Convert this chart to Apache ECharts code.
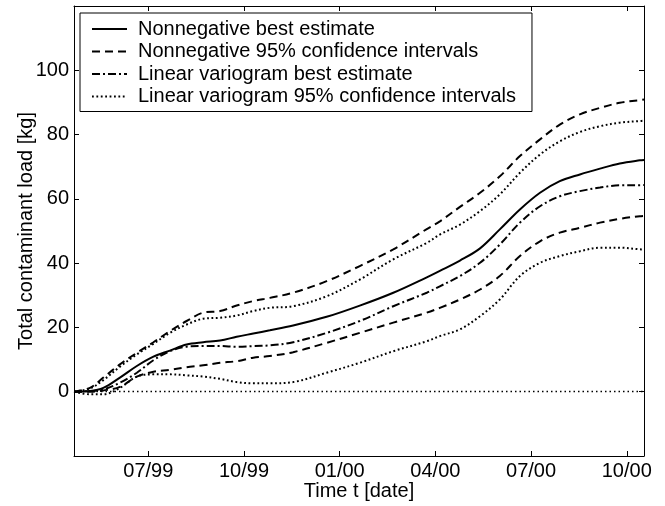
<!DOCTYPE html>
<html>
<head>
<meta charset="utf-8">
<script src="https://cdn.jsdelivr.net/npm/echarts@6/dist/echarts.min.js"></script>
<style>
html,body{margin:0;padding:0;background:#fff;}
#chart{width:665px;height:506px;}
</style>
</head>
<body>
<div id="chart"></div>
<script>
// x values: months since Jan 1999 (6 = 07/99)
const months = [3.67, 4.17, 4.59, 5.11, 5.64, 6.16, 6.68, 7.2, 7.72, 8.25, 8.77, 9.29, 9.81, 10.54, 11.59, 12.63, 13.68, 14.73, 15.14, 15.77, 16.4, 17.02, 17.65, 18.28, 18.9, 19.53, 20.16, 20.78, 21.41, 21.54];
const nnBest  = [0, 0.2, 1.2, 4.4, 8, 10.9, 12.8, 14.7, 15.4, 15.9, 17.1, 18.1, 19.1, 20.6, 23.3, 26.8, 30.8, 35.6, 37.6, 40.8, 44.6, 50.5, 56.7, 61.9, 65.5, 67.6, 69.4, 71, 72, 72.1];
const nnUpper = [0, 1.2, 4.4, 8.5, 12.1, 15.4, 18.9, 22, 24.6, 25.1, 26.8, 28.2, 29.2, 30.8, 34.4, 39.1, 44.3, 50.6, 53, 57.5, 61.9, 67, 73.3, 78.5, 83.1, 86.3, 88.3, 89.9, 90.7, 90.9];
const nnLower = [0, 0, 0.4, 1.5, 4.7, 6.2, 6.8, 7.6, 8.2, 9, 9.5, 10.6, 11.1, 12.3, 15.2, 18.3, 21.5, 24.6, 26.1, 28.7, 31.8, 36, 42.2, 46.8, 49.5, 51, 52.6, 53.8, 54.6, 54.7];
const lvBest  = [0, 0.2, 0.7, 2.8, 5.9, 9.8, 12.6, 14, 14.2, 14.2, 14, 14.2, 14.4, 15.4, 18.3, 22, 26.6, 30.8, 32.8, 36, 40.1, 45.8, 52.6, 57.7, 60.8, 62.4, 63.5, 64.2, 64.2, 64.3];
const lvUpper = [0, 1.0, 3.6, 7.8, 11.6, 14.9, 18.3, 20.9, 22.7, 23, 23.7, 25.1, 26.1, 26.6, 29.7, 34.9, 41.2, 46.3, 48.9, 52, 56.2, 61.4, 68.1, 73.8, 77.9, 80.8, 82.6, 83.7, 84.2, 84.3];
const lvLower = [0, -0.8, -0.8, 1.2, 4.7, 5.4, 5.4, 5.1, 4.7, 4, 3, 2.6, 2.6, 3, 5.9, 9, 12.6, 15.7, 17.3, 19.4, 23.5, 28.7, 36, 40.1, 42.2, 43.7, 44.8, 44.8, 44.3, 44.2];

const tickMonths = [6, 9, 12, 15, 18, 21];
const tickLabels = ['07/99', '10/99', '01/00', '04/00', '07/00', '10/00'];
const yTickLabels = [0, 20, 40, 60, 80, 100];

const names = {
  nnBest: 'Nonnegative best estimate',
  nnCI: 'Nonnegative 95% confidence intervals',
  lvBest: 'Linear variogram best estimate',
  lvCI: 'Linear variogram 95% confidence intervals'
};

const FONT = 'Liberation Sans, Arial, Helvetica, sans-serif';
const pts = arr => months.map((m, i) => [m, arr[i]]);

function line(name, arr, dash, extra) {
  return Object.assign({
    name: name, type: 'line', data: pts(arr), symbol: 'none', smooth: 0.35,
    xAxisIndex: 0, yAxisIndex: 0,
    lineStyle: { color: '#000', width: 2, type: dash, cap: 'butt' },
    itemStyle: { color: '#000' },
    emphasis: { disabled: true }, silent: true
  }, extra || {});
}

const chart = echarts.init(document.getElementById('chart'), null, { renderer: 'canvas' });
const xCommon = {
  type: 'value', min: 3.67, max: 21.54, splitLine: { show: false },
  axisLine: { show: true, onZero: false, lineStyle: { color: '#000', width: 1 } },
  axisTick: { show: true, inside: true, length: 5, customValues: tickMonths, lineStyle: { color: '#000' } }
};
const yCommon = {
  type: 'value', min: -20, max: 120, interval: 20, splitLine: { show: false },
  axisLine: { show: true, onZero: false, lineStyle: { color: '#000', width: 1 } },
  axisTick: { show: true, inside: true, length: 5, customValues: yTickLabels, lineStyle: { color: '#000' } }
};

chart.setOption({
  animation: false,
  backgroundColor: '#fff',
  textStyle: { fontFamily: FONT },
  grid: { left: 74, top: 6, right: 21, bottom: 50, containLabel: false, outerBoundsMode: 'none' },
  xAxis: [
    Object.assign({}, xCommon, {
      position: 'bottom',
      name: 'Time t [date]', nameLocation: 'middle', nameGap: 25, nameMoveOverlap: false,
      nameTextStyle: { fontSize: 20, color: '#000', fontFamily: FONT },
      axisLabel: {
        show: true, customValues: tickMonths, margin: 5, fontSize: 20, color: '#000', fontFamily: FONT,
        formatter: v => { const i = tickMonths.indexOf(v); return i >= 0 ? tickLabels[i] : ''; }
      }
    }),
    Object.assign({}, xCommon, { position: 'top', axisLabel: { show: false } })
  ],
  yAxis: [
    Object.assign({}, yCommon, {
      position: 'left',
      name: 'Total contaminant load [kg]', nameLocation: 'middle', nameGap: 38, nameMoveOverlap: false,
      nameTextStyle: { fontSize: 20, color: '#000', fontFamily: FONT },
      axisLabel: {
        show: true, customValues: yTickLabels, margin: 5, fontSize: 20, color: '#000', fontFamily: FONT,
        formatter: v => (yTickLabels.indexOf(v) >= 0 ? String(v) : '')
      }
    }),
    Object.assign({}, yCommon, { position: 'right', axisLabel: { show: false } })
  ],
  legend: {
    show: true, orient: 'vertical', left: 80, top: 13,
    data: [names.nnBest, names.nnCI, names.lvBest, names.lvCI],
    backgroundColor: '#fff', borderColor: '#000', borderWidth: 1, borderRadius: 0,
    padding: [5, 16, 4, 11], itemGap: 0.5, itemWidth: 35, itemHeight: 14,
    selectedMode: false,
    itemStyle: { opacity: 0, borderWidth: 0 },
    textStyle: { fontSize: 20, color: '#000', fontFamily: FONT, lineHeight: 22, padding: [0, 0, 0, 6] }
  },
  series: [
    line(names.nnBest, nnBest, 'solid', {
      markLine: {
        silent: true, symbol: ['none', 'none'], label: { show: false },
        lineStyle: { color: '#000', width: 1.3, type: [1.5, 3] },
        emphasis: { disabled: true },
        data: [{ yAxis: 0 }]
      }
    }),
    line(names.nnCI, nnUpper, [8, 5]),
    line(names.nnCI, nnLower, [8, 5]),
    line(names.lvBest, lvBest, [8, 3, 2, 3]),
    line(names.lvCI, lvUpper, [1.8, 2.6]),
    line(names.lvCI, lvLower, [1.8, 2.6])
  ]
});
</script>
</body>
</html>
